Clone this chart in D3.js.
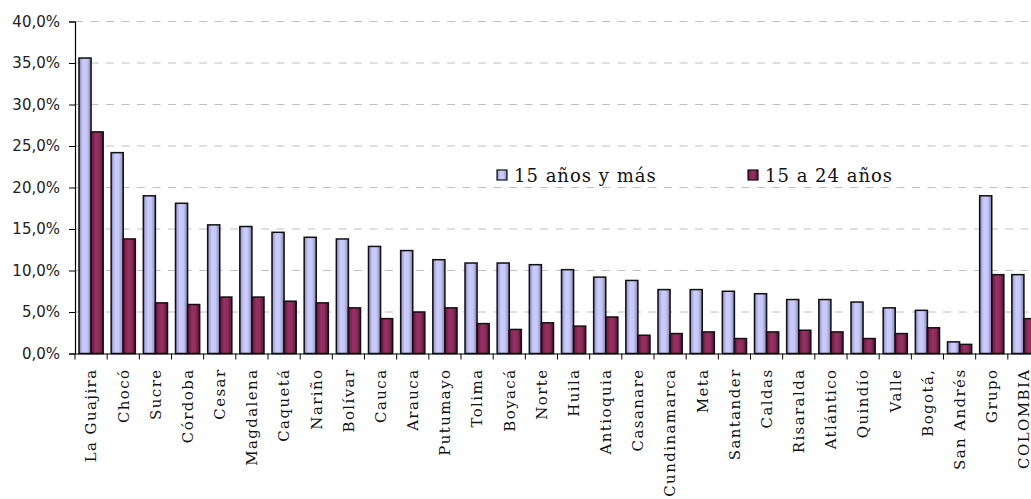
<!DOCTYPE html>
<html>
<head>
<meta charset="utf-8">
<script src="https://cdn.jsdelivr.net/npm/d3@7/dist/d3.min.js"></script>
<style>
  html, body { margin: 0; padding: 0; background: #fff; }
  svg { display: block; }
</style>
</head>
<body>
<svg id="chart" width="1031" height="499"></svg>
<script>
const categories = ["La Guajira","Chocó","Sucre","Córdoba","Cesar","Magdalena","Caquetá","Nariño","Bolívar","Cauca","Arauca","Putumayo","Tolima","Boyacá","Norte","Huila","Antioquia","Casanare","Cundinamarca","Meta","Santander","Caldas","Risaralda","Atlántico","Quindío","Valle","Bogotá,","San Andrés","Grupo","COLOMBIA"];
const seriesNames = ["15 años y más", "15 a 24 años"];
const values15plus = [35.6,24.2,19.0,18.1,15.5,15.3,14.6,14.0,13.8,12.9,12.4,11.3,10.9,10.9,10.7,10.1,9.2,8.8,7.7,7.7,7.5,7.2,6.5,6.5,6.2,5.5,5.2,1.4,19.0,9.5];
const values15to24 = [26.7,13.8,6.1,5.9,6.8,6.8,6.3,6.1,5.5,4.2,5.0,5.5,3.6,2.9,3.7,3.3,4.4,2.2,2.4,2.6,1.8,2.6,2.8,2.6,1.8,2.4,3.1,1.1,9.5,4.2];
const yTicks = [0,5,10,15,20,25,30,35,40];
const yTickLabels = ["0,0%","5,0%","10,0%","15,0%","20,0%","25,0%","30,0%","35,0%","40,0%"];

const svg = d3.select("#chart");
const pL = 75, pR = 1040, pT = 21.5, pB = 353.5;

const x = d3.scaleBand().domain(categories).range([pL, pR]).paddingInner(0).paddingOuter(0);
const xs = d3.scaleBand().domain(seriesNames).range([0, x.bandwidth()]).paddingInner(0).paddingOuter(0.33);
const y = d3.scaleLinear().domain([0, 40]).range([pB, pT]);

// gradients
const defs = svg.append("defs");
function grad(id, stops) {
  const g = defs.append("linearGradient").attr("id", id).attr("x1", "0%").attr("x2", "100%").attr("y1", "0%").attr("y2", "0%");
  stops.forEach(s => g.append("stop").attr("offset", s[0]).attr("stop-color", s[1]));
}
grad("gLight", [["0%","#6e6e9e"],["14%","#a8a8d8"],["35%","#cbcbfc"],["65%","#c8c8f8"],["85%","#a2a2d2"],["100%","#68689a"]]);
grad("gDark", [["0%","#4a0a2a"],["15%","#7a2050"],["40%","#953262"],["70%","#8c2b5a"],["100%","#4e0c2e"]]);
const fills = ["url(#gLight)", "url(#gDark)"];

// gridlines
svg.append("g").selectAll("line").data(yTicks.filter(d => d > 0)).join("line")
  .attr("x1", pL).attr("x2", 1031)
  .attr("y1", d => y(d)).attr("y2", d => y(d))
  .attr("stroke", "#c0c0c0").attr("stroke-width", 1)
  .attr("stroke-dasharray", "8,7.5");

// bars
const data = categories.map((c, i) => ({ c, vals: [values15plus[i], values15to24[i]] }));
const groups = svg.append("g").selectAll("g").data(data).join("g")
  .attr("transform", d => `translate(${x(d.c)},0)`);
groups.selectAll("rect").data(d => d.vals.map((v, j) => ({ v, j }))).join("rect")
  .attr("x", d => xs(seriesNames[d.j]))
  .attr("width", xs.bandwidth())
  .attr("y", d => y(d.v))
  .attr("height", d => y(0) - y(d.v))
  .attr("fill", d => fills[d.j])
  .attr("stroke", "#111")
  .attr("stroke-width", 1.5);

// y axis
const yAxis = d3.axisLeft(y).tickValues(yTicks).tickFormat((d, i) => yTickLabels[i]).tickSize(6).tickPadding(9);
const gy = svg.append("g").attr("transform", `translate(${pL},0)`).call(yAxis);
gy.select(".domain").attr("stroke", "#000").attr("stroke-width", 1.2);
gy.selectAll(".tick line").attr("stroke", "#000");
gy.selectAll(".tick text").attr("font-family", "'DejaVu Sans', Verdana, sans-serif").attr("font-size", "15px").attr("fill", "#222");

// x axis
const xAxis = d3.axisBottom(x).tickSize(0).tickFormat(d => d);
const gx = svg.append("g").attr("transform", `translate(0,${pB})`).call(xAxis);
gx.select(".domain").attr("stroke", "#000").attr("stroke-width", 1.2);
gx.append("g").selectAll("line").data(categories.map(c => x(c)).concat([pR])).join("line")
  .attr("x1", d => d).attr("x2", d => d).attr("y1", 0).attr("y2", 6)
  .attr("stroke", "#000").attr("stroke-width", 1);
gx.selectAll(".tick text")
  .attr("font-family", "'DejaVu Serif', 'Liberation Serif', serif")
  .attr("font-size", "15px")
  .attr("letter-spacing", "1.4px")
  .attr("fill", "#111")
  .attr("text-anchor", "end")
  .attr("transform", "rotate(-90)")
  .attr("x", -15)
  .attr("y", 0)
  .attr("dy", "0.36em");

// legend
const legend = svg.append("g");
const legendItems = [{ name: seriesNames[0], x: 497 }, { name: seriesNames[1], x: 748 }];
const lg = legend.selectAll("g").data(legendItems).join("g").attr("transform", d => `translate(${d.x},170)`);
lg.append("rect").attr("width", 10).attr("height", 10)
  .attr("fill", (d, i) => fills[i]).attr("stroke", "#111").attr("stroke-width", 1.2);
lg.append("text").attr("x", 17).attr("y", 11.5)
  .attr("font-family", "'DejaVu Serif', 'Liberation Serif', serif")
  .attr("font-size", "18px").attr("letter-spacing", "1px").attr("fill", "#111")
  .text(d => d.name);
</script>
</body>
</html>
